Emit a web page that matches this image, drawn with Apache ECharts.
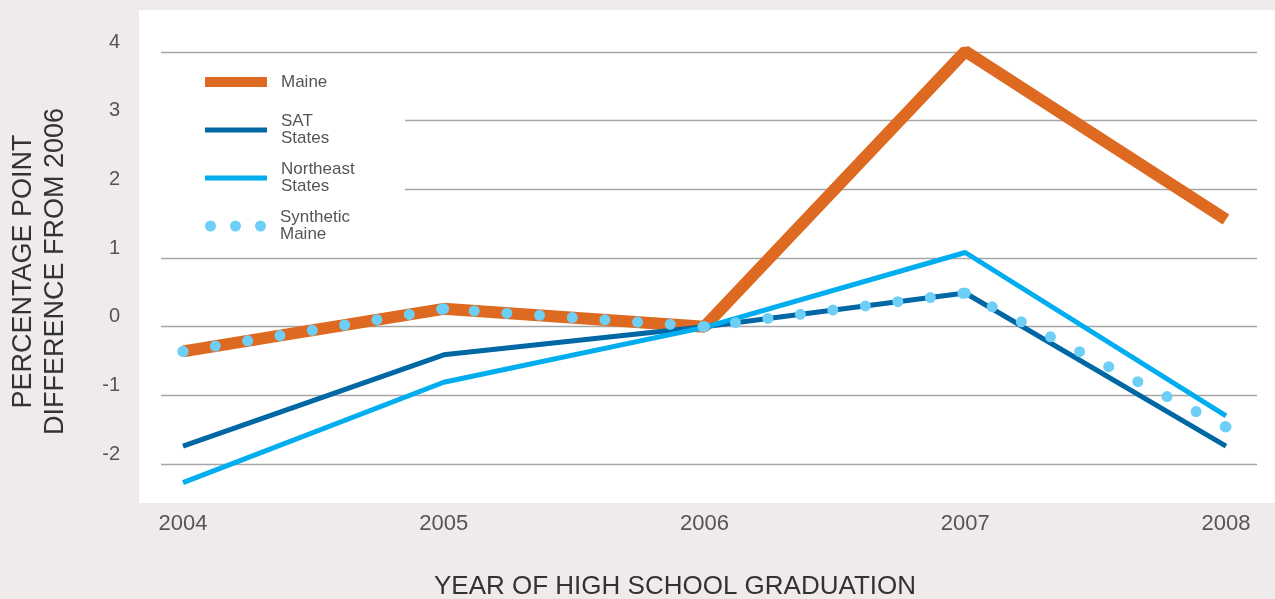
<!DOCTYPE html>
<html>
<head>
<meta charset="utf-8">
<script src="https://cdn.jsdelivr.net/npm/echarts@6/dist/echarts.min.js"></script>
<style>
  html, body { margin: 0; padding: 0; background: #eeebea; }
  #chart { width: 1275px; height: 599px; }
</style>
</head>
<body>
<div id="chart"></div>
<script>
// ---- data ----
const years = [2004, 2005, 2006, 2007, 2008];
const maine = [-0.36, 0.26, 0.0, 4.01, 1.56];
const satStates = [-1.74, -0.41, 0.0, 0.49, -1.74];
const northeastStates = [-2.27, -0.81, -0.01, 1.08, -1.30];
const syntheticMaine = [-0.36, 0.26, 0.0, 0.49, -1.46];
const yTicks = [-2, -1, 0, 1, 2, 3, 4];

const pairs = arr => years.map((y, i) => [y, arr[i]]);

// gridline extents (x in axis units)
const gridStart = 2004 - 22 / 260.75;
const gridEnd = 2008 + 31 / 260.75;
const gridStartShort = 2004 + 222 / 260.75;
const gridLines = yTicks.map(v => {
  const s = (v === 3 || v === 2) ? gridStartShort : gridStart;
  return [{ coord: [s, v] }, { coord: [gridEnd, v] }];
});

const C_MAINE = '#dd6a20', C_SAT = '#0067a5', C_NE = '#00aeef', C_SYN = '#6dcff6';
const labelColor = '#555';
const fontFam = '"Liberation Sans", Arial, Helvetica, sans-serif';

const dotsIcon = 'path://M0,5.5A5.5,5.5,0,1,1,11,5.5A5.5,5.5,0,1,1,0,5.5ZM25,5.5A5.5,5.5,0,1,1,36,5.5A5.5,5.5,0,1,1,25,5.5ZM50,5.5A5.5,5.5,0,1,1,61,5.5A5.5,5.5,0,1,1,50,5.5Z';

const legendText = {
  color: labelColor, fontSize: 17, lineHeight: 17, fontFamily: fontFam,
  padding: [0, 0, 0, 9]
};
const legendFmt = n => ({ 'SAT States': 'SAT\nStates', 'Northeast States': 'Northeast\nStates', 'Synthetic Maine': 'Synthetic\nMaine' }[n] || n);
function mkLegend(name, top, h, icon, color, w) {
  return {
    left: 205, top: top, padding: 0, orient: 'vertical',
    itemWidth: w || 62, itemHeight: h, selectedMode: false,
    formatter: legendFmt, textStyle: legendText,
    data: [{ name: name, icon: icon, itemStyle: { color: color, borderWidth: 0 } }]
  };
}

const chart = echarts.init(document.getElementById('chart'), null, { renderer: 'canvas' });
chart.setOption({
  backgroundColor: '#eeebea',
  animation: false,
  grid: {
    left: 139, right: 0, top: 10, bottom: 96,
    outerBoundsMode: 'none', containLabel: false,
    show: true, backgroundColor: '#ffffff', borderWidth: 0
  },
  legend: [
    mkLegend('Maine', 73.5, 10, 'rect', C_MAINE),
    mkLegend('SAT States', 113, 5, 'rect', C_SAT),
    mkLegend('Northeast States', 161, 5, 'rect', C_NE),
    mkLegend('Synthetic Maine', 209, 11, dotsIcon, C_SYN, 61)
  ],
  xAxis: {
    type: 'value',
    min: 2004 - 44 / 260.75,
    max: 2008 + 49 / 260.75,
    axisLine: { show: false }, axisTick: { show: false }, splitLine: { show: false },
    axisLabel: {
      customValues: years, formatter: v => String(v),
      color: labelColor, fontSize: 22, fontFamily: fontFam, margin: 10
    },
    name: 'YEAR OF HIGH SCHOOL GRADUATION',
    nameLocation: 'middle', nameGap: 71,
    nameTextStyle: { color: '#333', fontSize: 26, fontFamily: fontFam, padding: [0, 64, 0, 0] }
  },
  yAxis: {
    type: 'value',
    min: -2 - 39 / 68.67,
    max: 4 + 42 / 68.67,
    axisLine: { show: false }, axisTick: { show: false }, splitLine: { show: false },
    axisLabel: {
      customValues: yTicks, formatter: v => String(v),
      color: labelColor, fontSize: 20, fontFamily: fontFam, margin: 19,
      verticalAlign: 'bottom'
    },
    name: 'PERCENTAGE POINT\nDIFFERENCE FROM 2006',
    nameLocation: 'middle', nameGap: 67, nameRotate: 90,
    nameTextStyle: { color: '#333', fontSize: 27, lineHeight: 32, fontFamily: fontFam, padding: [0, 30, 0, 0] }
  },
  series: [
    {
      name: 'Maine', type: 'line', data: pairs(maine), showSymbol: false,
      itemStyle: { color: C_MAINE },
      lineStyle: { color: C_MAINE, width: 12, cap: 'butt' },
      z: 2,
      markLine: {
        silent: true, symbol: 'none', label: { show: false },
        lineStyle: { color: '#a6a6a6', width: 1.3, type: 'solid' },
        emphasis: { disabled: true },
        data: gridLines, z: 1
      }
    },
    {
      name: 'SAT States', type: 'line', data: pairs(satStates), showSymbol: false,
      itemStyle: { color: C_SAT },
      lineStyle: { color: C_SAT, width: 5 }, z: 3
    },
    {
      name: 'Northeast States', type: 'line', data: pairs(northeastStates), showSymbol: false,
      itemStyle: { color: C_NE },
      lineStyle: { color: C_NE, width: 5 }, z: 4
    },
    {
      name: 'Synthetic Maine', type: 'line', data: pairs(syntheticMaine),
      symbol: 'circle', symbolSize: 11, showSymbol: true,
      itemStyle: { color: C_SYN, borderWidth: 0 },
      lineStyle: { color: C_SYN, width: 11, type: [0, 32.75], cap: 'round' }, z: 5
    }
  ]
});
</script>
</body>
</html>
